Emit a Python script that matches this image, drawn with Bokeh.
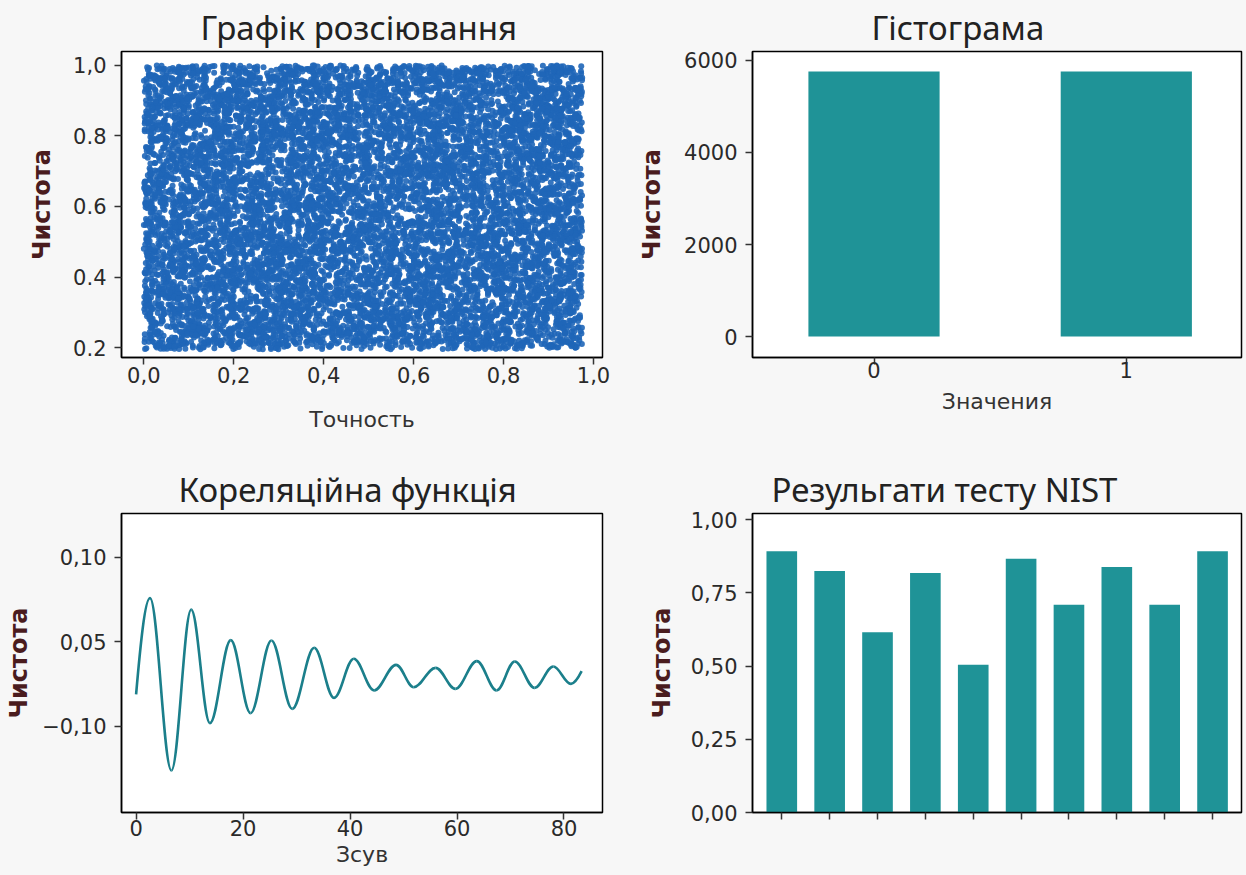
import numpy as np
from bokeh.plotting import figure
from bokeh.layouts import column, row
from bokeh.models import FixedTicker, Range1d
from bokeh.embed import file_html
from bokeh.resources import INLINE

# ------------------------------------------------------------------ data
# Scatter: a uniform cloud of points (individual points cannot be read off
# the picture, so the cloud is regenerated inside the visible bounds).
scatter_count = 10500
scatter_x_bounds = [0.0, 0.975]
scatter_y_bounds = [0.195, 1.0]
scatter_x_ticks = [0.0, 0.2, 0.4, 0.6, 0.8, 1.0]
scatter_x_labels = ["0,0", "0,2", "0,4", "0,6", "0,8", "1,0"]
scatter_y_ticks = [0.2, 0.4, 0.6, 0.8, 1.0]
scatter_y_labels = ["0.2", "0.4", "0.6", "0.8", "1,0"]

# Histogram
hist_values = [0, 1]
hist_counts = [5760, 5760]
hist_y_ticks = [0, 2000, 4000, 6000]

# Correlation function: extrema
corr_lag = [0, 2.6, 6.6, 10.3, 13.8, 17.7, 21.4, 25.3, 29.2, 33.3, 37.0, 40.7,
            44.5, 48.6, 51.9, 56.0, 59.7, 63.7, 67.4, 70.8, 74.5, 78.0, 81.3, 83.3]
corr_val = [0.019, 0.0758, -0.026, 0.069, 0.002, 0.051, 0.0079, 0.0508, 0.0104,
            0.0465, 0.0169, 0.040, 0.0213, 0.0364, 0.0232, 0.0346, 0.0222, 0.0386,
            0.0213, 0.0384, 0.0228, 0.0354, 0.0252, 0.0327]
corr_x_ticks = [0, 20, 40, 60, 80]
corr_y_ticks = [0.0, 0.05, 0.10]
corr_y_labels = ["\u22120,10", "0,05", "0,10"]

# NIST test results
nist_test = [0, 1, 2, 3, 4, 5, 6, 7, 8, 9]
nist_pass = [0.892, 0.824, 0.615, 0.817, 0.504, 0.866, 0.709, 0.838, 0.709, 0.892]
nist_y_ticks = [0.0, 0.25, 0.5, 0.75, 1.0]
nist_y_labels = ["0,00", "0,25", "0,50", "0,75", "1,00"]

# ------------------------------------------------------------------ style
BG = "#f7f7f7"
TEAL = "#1f9397"
LINE = "#1b7f8b"
BLUE = "#1f66b8"
YLAB = "#4a1c1e"
TICK_FONT = "DejaVu Sans"


def make_fig(w, h, left, right, top, bottom, xr, yr, title, title_offset,
             ylab_standoff, xtick_standoff=2, xlab_standoff=10):
    p = figure(width=w, height=h, x_range=Range1d(*xr), y_range=Range1d(*yr),
               output_backend="svg", toolbar_location=None, title=title,
               min_border_left=left, min_border_right=right,
               min_border_top=top, min_border_bottom=bottom)
    p.background_fill_color = "white"
    p.border_fill_color = BG
    p.outline_line_color = "black"
    p.outline_line_width = 1.5
    p.grid.visible = False
    p.title.text_font = "Noto Sans"
    p.title.text_font_size = "33px"
    p.title.text_font_style = "normal"
    p.title.text_color = "#222222"
    p.title.align = "left"
    p.title.offset = title_offset
    p.title.standoff = 4
    for ax in (p.xaxis[0], p.yaxis[0]):
        ax.axis_line_color = "black"
        ax.axis_line_width = 1.5
        ax.major_tick_line_color = "#333333"
        ax.major_tick_line_width = 1.5
        ax.major_tick_out = 7
        ax.major_tick_in = 0
        ax.minor_tick_line_color = None
        ax.major_label_text_font = TICK_FONT
        ax.major_label_text_font_size = "21px"
        ax.major_label_text_color = "#2a2a2a"
        ax.axis_label_text_font = TICK_FONT
    p.yaxis[0].major_label_standoff = 8
    p.xaxis[0].major_label_standoff = xtick_standoff
    p.yaxis[0].axis_label_text_font_style = "bold"
    p.yaxis[0].axis_label_text_font_size = "24px"
    p.yaxis[0].axis_label_text_color = YLAB
    p.yaxis[0].axis_label_standoff = ylab_standoff
    p.xaxis[0].axis_label_text_font_style = "normal"
    p.xaxis[0].axis_label_text_font_size = "22px"
    p.xaxis[0].axis_label_text_color = "#333333"
    p.xaxis[0].axis_label_standoff = xlab_standoff
    return p


# ---------------- scatter
p1 = make_fig(630, 448, 121, 28, 49, 91, (-0.0496, 1.020), (0.1718, 1.0394),
              "Графік розсіювання", 79, ylab_standoff=14,
              xtick_standoff=2, xlab_standoff=21)
rng = np.random.default_rng(7)
sx = rng.uniform(scatter_x_bounds[0], scatter_x_bounds[1], scatter_count)
sy = rng.uniform(scatter_y_bounds[0], scatter_y_bounds[1], scatter_count)
p1.scatter(sx, sy, size=6, fill_color=BLUE, line_color=None, fill_alpha=0.9)
p1.xaxis.ticker = FixedTicker(ticks=scatter_x_ticks)
p1.xaxis.major_label_overrides = {t: l for t, l in zip(scatter_x_ticks, scatter_x_labels)}
p1.yaxis.ticker = FixedTicker(ticks=scatter_y_ticks)
p1.yaxis.major_label_overrides = {t: l for t, l in zip(scatter_y_ticks, scatter_y_labels)}
p1.xaxis.axis_label = "Точность"
p1.yaxis.axis_label = "Чистота"

# ---------------- histogram
p2 = make_fig(616, 448, 122, 5, 49, 91, (-0.4816, 1.4566), (-454, 6194),
              "Гістограма", 119, ylab_standoff=15,
              xtick_standoff=-3, xlab_standoff=8)
p2.vbar(x=hist_values, top=hist_counts, width=0.52, bottom=0,
        fill_color=TEAL, line_color=None)
p2.xaxis.ticker = FixedTicker(ticks=hist_values)
p2.yaxis.ticker = FixedTicker(ticks=hist_y_ticks)
p2.xaxis.axis_label = "Значения"
p2.yaxis.axis_label = "Чистота"

# ---------------- correlation function
p3 = make_fig(630, 427, 121, 28, 65, 63, (-2.73, 87.2), (-0.0508, 0.1258),
              "Кореляційна функція", 57, ylab_standoff=6,
              xtick_standoff=0, xlab_standoff=3)
kx = np.array(corr_lag, dtype=float)
ky = np.array(corr_val, dtype=float)
k = 0.363
x0, x1, y0, y1 = kx[:-1], kx[1:], ky[:-1], ky[1:]
dx = x1 - x0
cx0 = x0 + k * dx
cx1 = x1 - k * dx
cy0 = y0.copy()
cy1 = y1.copy()
cx0[0] = x0[0] + 0.3 * dx[0]
cy0[0] = y0[0] + 0.5 * (y1[0] - y0[0])
cx1[-1] = x1[-1] - 0.3 * dx[-1]
cy1[-1] = y1[-1] - 0.5 * (y1[-1] - y0[-1])
p3.bezier(x0=x0, y0=y0, x1=x1, y1=y1, cx0=cx0, cy0=cy0, cx1=cx1, cy1=cy1,
          line_color=LINE, line_width=2.6)
p3.xaxis.ticker = FixedTicker(ticks=corr_x_ticks)
p3.yaxis.ticker = FixedTicker(ticks=corr_y_ticks)
p3.yaxis.major_label_overrides = {t: l for t, l in zip(corr_y_ticks, corr_y_labels)}
p3.xaxis.axis_label = "Зсув"
p3.yaxis.axis_label = "Чистота"

# ---------------- NIST
p4 = make_fig(616, 427, 122, 5, 65, 63, (-0.612, 9.605), (0, 1.0205),
              "Резульгати тесту NIST", 19, ylab_standoff=12)
p4.vbar(x=nist_test, top=nist_pass, width=0.64, bottom=0,
        fill_color=TEAL, line_color=None)
p4.xaxis.ticker = FixedTicker(ticks=nist_test)
p4.xaxis.major_label_overrides = {t: "" for t in nist_test}
p4.yaxis.ticker = FixedTicker(ticks=nist_y_ticks)
p4.yaxis.major_label_overrides = {t: l for t, l in zip(nist_y_ticks, nist_y_labels)}
p4.yaxis.axis_label = "Чистота"

bg = {"background-color": BG}
layout = column(row(p1, p2, spacing=0, styles=bg),
                row(p3, p4, spacing=0, styles=bg),
                spacing=0, styles=bg)

open("out.html", "w").write(file_html(layout, INLINE))
